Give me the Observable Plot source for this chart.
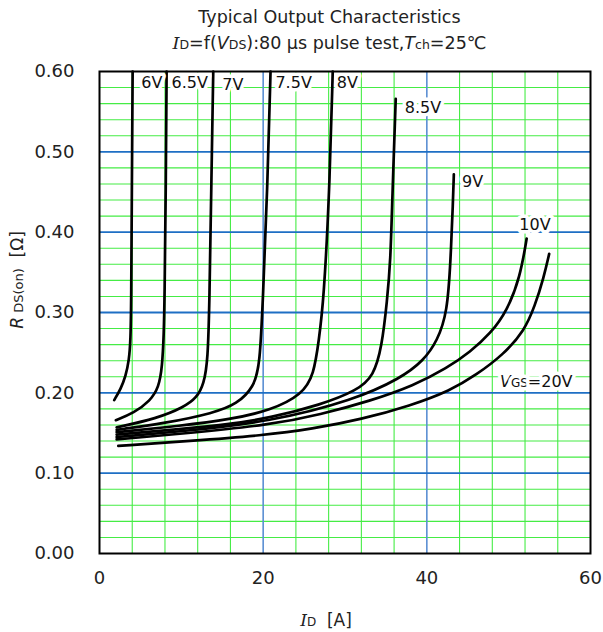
<!DOCTYPE html>
<html><head><meta charset="utf-8">
<script src="https://cdn.jsdelivr.net/npm/d3@7"></script>
<script src="https://cdn.jsdelivr.net/npm/@observablehq/plot@0.6"></script>
<style>
body{margin:0;background:#fff;font-family:"DejaVu Sans",Verdana,sans-serif;}
#title{height:58px;padding-left:56px;padding-right:0;padding-top:4px;text-align:center;color:#222;font-size:17.5px;line-height:26px;box-sizing:border-box;white-space:nowrap}
.sub{font-size:12.5px}
</style></head><body>
<div id="title"><div>Typical Output Characteristics</div><div><i style="font-family:'DejaVu Serif'">I</i><span class="sub">D</span>=f(<i>V</i><span class="sub">DS</span>):80 µs pulse test,<i>T</i><span class="sub">ch</span>=25℃</div></div>
<div id="chart"></div>
<script>
// ---- data (ID [A], RDS(on) [Ω]) ----
const vgs6   = [[1.8,0.191],[2.6,0.205],[3.2,0.221],[3.6,0.240],[3.8,0.265],[3.88,0.315],[3.95,0.45],[4.05,0.60]];
const vgs6_5 = [[2.0,0.166],[4.2,0.175],[6.2,0.190],[7.25,0.207],[7.66,0.232],[7.86,0.273],[7.95,0.315],[8.1,0.45],[8.2,0.60]];
const vgs7   = [[2.1,0.157],[7.0,0.168],[10.3,0.182],[11.9,0.194],[12.75,0.211],[13.24,0.240],[13.44,0.315],[13.65,0.45],[13.9,0.60]];
const vgs7_5 = [[2.1,0.154],[8,0.162],[14,0.175],[16.8,0.186],[18.86,0.207],[19.6,0.235],[19.96,0.315],[20.5,0.45],[20.9,0.60]];
const vgs8   = [[2.1,0.151],[10,0.159],[16,0.167],[20.9,0.178],[24.8,0.198],[26.2,0.223],[26.8,0.265],[27.4,0.315],[28.1,0.45],[28.5,0.60]];
const vgs8_5 = [[2.1,0.148],[10,0.155],[16,0.161],[20.9,0.169],[27.0,0.185],[31.5,0.203],[33.5,0.221],[34.5,0.257],[35.15,0.315],[35.56,0.364],[35.77,0.439],[36.2,0.566]];
const vgs9   = [[2.1,0.145],[10,0.152],[20.9,0.164],[31.1,0.191],[36.8,0.218],[39.6,0.240],[41.3,0.265],[42.5,0.300],[42.9,0.364],[43.2,0.439],[43.3,0.472]];
const vgs10  = [[2.1,0.142],[10,0.149],[20.9,0.160],[27,0.173],[33.1,0.190],[38.4,0.209],[42.5,0.231],[45.3,0.251],[47.8,0.274],[49.8,0.302],[51.4,0.344],[52.2,0.392]];
const vgs20  = [[2.3,0.134],[11,0.140],[20,0.147],[26,0.155],[32,0.167],[38,0.184],[42.9,0.203],[46,0.222],[49.4,0.248],[51.9,0.277],[53.2,0.308],[54.3,0.344],[54.95,0.373]];

const seriesNames = ["6V","6.5V","7V","7.5V","8V","8.5V","9V","10V","20V"];
const seriesData  = [vgs6,vgs6_5,vgs7,vgs7_5,vgs8,vgs8_5,vgs9,vgs10,vgs20];

const labelText = ["6V","6.5V","7V","7.5V","8V","8.5V","9V","10V"];
const labelX    = [5.1,8.8,15.0,21.5,29.0,37.3,44.3,51.3];
const labelY    = [0.586,0.586,0.583,0.586,0.586,0.555,0.462,0.409];
const vgsLabelX = 49.0, vgsLabelY = 0.213;

const xTicks = [0,20,40,60];
const yTicks = [0,0.1,0.2,0.3,0.4,0.5,0.6];
const xMinor = d3.range(4,60,4).filter(v=>v%20!==0);
const yMinor = d3.range(1,30).map(i=>i*0.02).filter(v=>Math.round(v*100)%10!==0);
const xMajor = [20,40];
const yMajor = [0.1,0.2,0.3,0.4,0.5];

const rows = seriesData.flatMap((s,i)=>s.map(([x,y])=>({x,y,vgs:seriesNames[i]})));
const labels = labelText.map((t,i)=>({t,x:labelX[i],y:labelY[i]}));

const green = "#45ec45", blue = "#1e6fc4", blueV = "#5b8fd3";

const chart = Plot.plot({
  width:603, height:574,
  marginTop:13, marginLeft:99, marginRight:13, marginBottom:79,
  style:{fontFamily:"DejaVu Sans, Verdana, sans-serif", fontSize:"18px", color:"#222", background:"white"},
  x:{domain:[0,60], ticks:xTicks, tickSize:0, tickPadding:18, label:null},
  y:{domain:[0,0.6], ticks:yTicks, tickFormat:d3.format(".2f"), tickSize:0, tickPadding:25, label:null},
  marks:[
    Plot.ruleX(xMinor,{stroke:green, strokeWidth:1.1}),
    Plot.ruleY(yMinor,{stroke:green, strokeWidth:1.1}),
    Plot.ruleX(xMajor,{stroke:blueV, strokeWidth:1.6}),
    Plot.ruleY(yMajor,{stroke:blue, strokeWidth:1.8}),
    Plot.line(rows,{x:"x",y:"y",z:"vgs",stroke:"black",strokeWidth:2.7,curve:"basis"}),
    Plot.text(labels,{x:"x",y:"y",text:"t",textAnchor:"start",fill:"#111",stroke:"white",strokeWidth:7,fontSize:16}),
    Plot.frame({stroke:"black",strokeWidth:2})
  ]
});
document.getElementById("chart").appendChild(chart);

const svg = d3.select(chart);
const sx = chart.scale("x"), sy = chart.scale("y");
// VGS=20V label
const vt = svg.append("text")
  .attr("x", sx.apply(vgsLabelX)).attr("y", sy.apply(vgsLabelY)).attr("dy","0.35em")
  .attr("text-anchor","start")
  .attr("font-size",16).attr("fill","#111").attr("stroke","white").attr("stroke-width",7)
  .attr("paint-order","stroke").attr("stroke-linejoin","round");
vt.append("tspan").attr("font-style","italic").text("V");
vt.append("tspan").attr("font-size",12).text("GS");
vt.append("tspan").text("=20V");

// y-axis label
const yl = svg.append("text").attr("transform","translate(23,222) rotate(-90)")
  .attr("text-anchor","middle").attr("font-size",17).attr("fill","#222");
yl.append("tspan").attr("font-style","italic").text("R");
yl.append("tspan").attr("font-size",13).text(" DS(on)");
yl.append("tspan").text("\u00a0\u00a0[Ω]");

// x-axis label
const xl = svg.append("text").attr("x",326).attr("y",568)
  .attr("text-anchor","middle").attr("font-size",17).attr("fill","#222");
xl.append("tspan").attr("font-style","italic").attr("font-family","DejaVu Serif").text("I");
xl.append("tspan").attr("font-size",12).text("D");
xl.append("tspan").text("\u00a0\u00a0[A]");
</script>
</body></html>
